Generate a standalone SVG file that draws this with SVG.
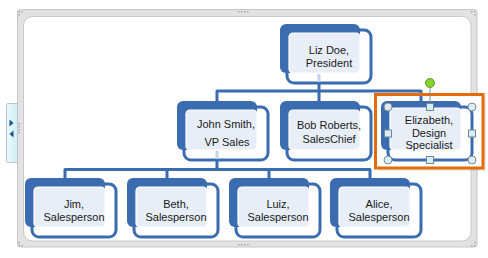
<svg xmlns="http://www.w3.org/2000/svg" width="488" height="258" viewBox="0 0 488 258">
<defs>
<style>
.dk{fill:#3b6cb0}
.ol{fill:#fff;stroke:#3b6cb0;stroke-width:3}
.lt{fill:#e7eef8;stroke:#fff;stroke-width:1.2}
.tx{font-family:"Liberation Sans",Arial,sans-serif;font-size:11px;fill:#1a1a1a;text-anchor:middle}
.cn{fill:none;stroke:#3b6cb0;stroke-width:3;stroke-linejoin:round}
.cl{fill:none;stroke:#c5d4ea;stroke-width:3}
.dot{fill:#a8a8a8}
.hc{fill:#dcedf3;stroke:#7d8c99;stroke-width:1}
.hs{fill:#d6eef6;stroke:#6f8594;stroke-width:1}
</style>
<linearGradient id="tab" x1="0" y1="0" x2="1" y2="0">
<stop offset="0" stop-color="#eafafd"/><stop offset="1" stop-color="#cfeff5"/>
</linearGradient>
</defs>
<rect width="488" height="258" fill="#fff"/>
<g id="frame">
<rect x="17.5" y="9.5" width="459.5" height="237.5" rx="3" fill="#e2e2e2" stroke="#c6c6c6"/>
<rect x="23.5" y="16.5" width="447.5" height="224.5" rx="9" fill="#fff" stroke="#c9c9c9"/>
<g class="dot">
<rect x="18.5" y="11" width="1.5" height="1.5"/><rect x="21.5" y="11" width="1.5" height="1.5"/><rect x="18.5" y="14" width="1.5" height="1.5"/>
<rect x="238" y="11" width="1.5" height="1.5"/><rect x="241" y="11" width="1.5" height="1.5"/><rect x="244" y="11" width="1.5" height="1.5"/><rect x="247" y="11" width="1.5" height="1.5"/>
<rect x="471" y="11" width="1.5" height="1.5"/><rect x="474" y="11" width="1.5" height="1.5"/><rect x="474" y="14" width="1.5" height="1.5"/>
<rect x="18.5" y="242" width="1.5" height="1.5"/><rect x="18.5" y="245" width="1.5" height="1.5"/><rect x="21.5" y="245" width="1.5" height="1.5"/>
<rect x="238" y="244" width="1.5" height="1.5"/><rect x="241" y="244" width="1.5" height="1.5"/><rect x="244" y="244" width="1.5" height="1.5"/><rect x="247" y="244" width="1.5" height="1.5"/>
<rect x="474" y="242" width="1.5" height="1.5"/><rect x="471" y="245" width="1.5" height="1.5"/><rect x="474" y="245" width="1.5" height="1.5"/>
<rect x="18.5" y="123" width="1.5" height="1.5"/><rect x="18.5" y="126" width="1.5" height="1.5"/><rect x="18.5" y="129" width="1.5" height="1.5"/><rect x="18.5" y="132" width="1.5" height="1.5"/>
<rect x="474" y="121" width="1.5" height="1.5"/><rect x="474" y="124" width="1.5" height="1.5"/><rect x="474" y="127" width="1.5" height="1.5"/><rect x="474" y="130" width="1.5" height="1.5"/>
</g>
</g>
<g id="tab">
<path d="M17 103.5 H8 Q6.5 103.5 6.5 105 V161 Q6.5 162.5 8 162.5 H17" fill="url(#tab)" stroke="#b7c6ca"/>
<path d="M9.5 119.5 L13.5 123 L9.5 126.5 Z" fill="#1f4f86"/>
<path d="M13.5 130.5 L9.5 134 L13.5 137.5 Z" fill="#1f4f86"/>
</g>
<g id="sel-shadow">
<rect x="378" y="97" width="108" height="74" fill="#000" opacity="0.08"/>
<rect x="376" y="95" width="107" height="73" fill="#fff"/>
</g>
<g id="node-liz">
<rect class="ol" x="287" y="30" width="84" height="53" rx="7"/>
<rect class="dk" x="280" y="24" width="80" height="49" rx="6"/>
<rect class="lt" x="289" y="33" width="71" height="40" rx="4"/>
<text class="tx" x="329" y="54">Liz Doe,</text>
<text class="tx" x="329" y="67">President</text>
</g>
<g id="node-john">
<rect class="ol" x="184" y="107" width="84" height="53" rx="7"/>
<rect class="dk" x="177" y="101" width="80" height="49" rx="6"/>
<rect class="lt" x="186" y="110" width="71" height="40" rx="4"/>
<text class="tx" x="226" y="128">John Smith,</text>
<text class="tx" x="227" y="146">VP Sales</text>
</g>
<g id="node-bob">
<rect class="ol" x="287" y="107" width="84" height="53" rx="7"/>
<rect class="dk" x="280" y="101" width="80" height="49" rx="6"/>
<rect class="lt" x="289" y="110" width="71" height="40" rx="4"/>
<text class="tx" x="329" y="129">Bob Roberts,</text>
<text class="tx" x="329" y="143">SalesChief</text>
</g>
<g id="node-elizabeth">
<rect class="ol" x="388" y="107" width="84" height="53" rx="7"/>
<rect class="dk" x="381" y="101" width="80" height="49" rx="6"/>
<rect class="lt" x="390" y="108" width="71" height="42" rx="4"/>
<text class="tx" x="429" y="124">Elizabeth,</text>
<text class="tx" x="429" y="136.5">Design</text>
<text class="tx" x="429" y="149">Specialist</text>
</g>
<g id="node-jim">
<rect class="ol" x="32" y="184" width="84" height="53" rx="7"/>
<rect class="dk" x="25" y="178" width="80" height="49" rx="6"/>
<rect class="lt" x="34" y="187" width="71" height="40" rx="4"/>
<text class="tx" x="74" y="207.5">Jim,</text>
<text class="tx" x="74" y="221">Salesperson</text>
</g>
<g id="node-beth">
<rect class="ol" x="134" y="184" width="84" height="53" rx="7"/>
<rect class="dk" x="127" y="178" width="80" height="49" rx="6"/>
<rect class="lt" x="136" y="187" width="71" height="40" rx="4"/>
<text class="tx" x="176" y="207.5">Beth,</text>
<text class="tx" x="176" y="221">Salesperson</text>
</g>
<g id="node-luiz">
<rect class="ol" x="236" y="184" width="84" height="53" rx="7"/>
<rect class="dk" x="229" y="178" width="80" height="49" rx="6"/>
<rect class="lt" x="238" y="187" width="71" height="40" rx="4"/>
<text class="tx" x="278" y="207.5">Luiz,</text>
<text class="tx" x="278" y="221">Salesperson</text>
</g>
<g id="node-alice">
<rect class="ol" x="337" y="184" width="84" height="53" rx="7"/>
<rect class="dk" x="330" y="178" width="80" height="49" rx="6"/>
<rect class="lt" x="339" y="187" width="71" height="40" rx="4"/>
<text class="tx" x="379" y="207.5">Alice,</text>
<text class="tx" x="379" y="221">Salesperson</text>
</g>
<g id="connectors">
<path class="cl" d="M319 74 V82 M217 151 V159"/>
<path class="cn" d="M319 82 V101 M217 101 V91 H421 V101"/>
<path class="cn" d="M217 159 V169.5 M65 178 V169.5 H370 V178 M167 169.5 V178 M269 169.5 V178"/>
</g>
<g id="selection">
<rect x="375.5" y="94.5" width="107.5" height="73.5" fill="none" stroke="#e46c0a" stroke-width="3"/>
<line x1="430" y1="87" x2="430" y2="104" stroke="#808a92" stroke-width="1"/>
<circle cx="430" cy="83" r="4.5" fill="#86d431" stroke="#5c9a22"/>
<circle class="hc" cx="388" cy="107" r="4"/>
<circle class="hc" cx="472" cy="107" r="4"/>
<circle class="hc" cx="388" cy="160" r="4"/>
<circle class="hc" cx="472" cy="160" r="4"/>
<rect class="hs" x="426.5" y="103.5" width="7" height="7"/>
<rect class="hs" x="426.5" y="156.5" width="7" height="7"/>
<rect class="hs" x="384.5" y="130" width="7" height="7"/>
<rect class="hs" x="468.5" y="130" width="7" height="7"/>
</g>
</svg>
